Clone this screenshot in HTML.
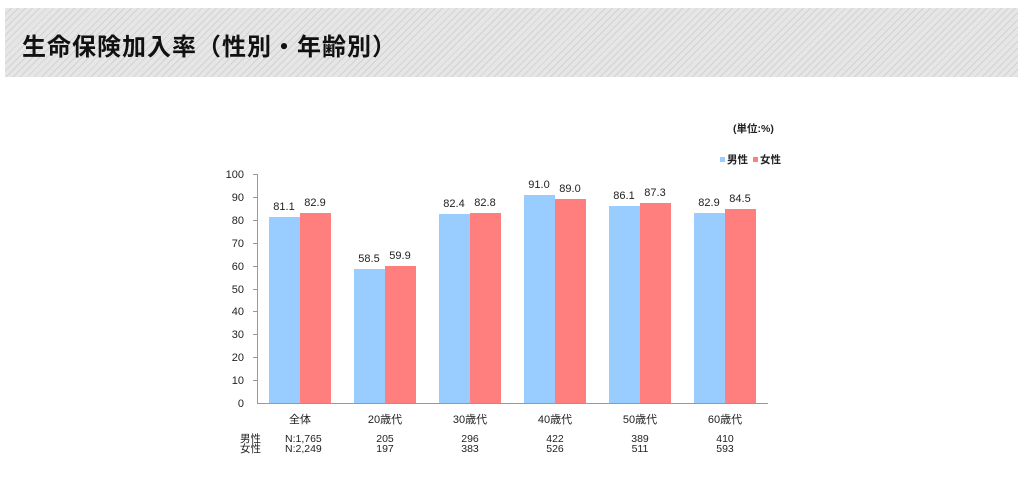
<!DOCTYPE html>
<html><head><meta charset="utf-8"><style>
body{margin:0;background:#fff;width:1024px;height:485px;overflow:hidden;font-family:"Liberation Sans","Noto Sans CJK JP",sans-serif}
.hdr{position:absolute;left:5px;top:8px;width:1013px;height:69px;background:repeating-linear-gradient(135deg,#e6e6e6 0 4px,#d2d2d2 4px 5px)}
.hdr span{position:absolute;left:17px;top:19px;font-size:24px;font-weight:bold;color:#111;letter-spacing:1px}
svg{position:absolute;left:0;top:0}
</style></head><body>
<div class="hdr"><span>生命保険加入率（性別・年齢別）</span></div>
<svg width="1024" height="485" font-family="Liberation Sans, Noto Sans CJK JP, sans-serif" font-size="11" fill="#222">
<g stroke="#999" stroke-width="1">
<line x1="257.5" y1="174" x2="257.5" y2="403"/>
<line x1="257" y1="403.5" x2="768" y2="403.5"/>
<line x1="253" y1="174.5" x2="257" y2="174.5"/><line x1="253" y1="197.5" x2="257" y2="197.5"/><line x1="253" y1="220.5" x2="257" y2="220.5"/><line x1="253" y1="243.5" x2="257" y2="243.5"/><line x1="253" y1="266.5" x2="257" y2="266.5"/><line x1="253" y1="289.5" x2="257" y2="289.5"/><line x1="253" y1="311.5" x2="257" y2="311.5"/><line x1="253" y1="334.5" x2="257" y2="334.5"/><line x1="253" y1="357.5" x2="257" y2="357.5"/><line x1="253" y1="380.5" x2="257" y2="380.5"/>
</g>
<g text-anchor="end">
<text x="244" y="178">100</text><text x="244" y="201">90</text><text x="244" y="224">80</text><text x="244" y="247">70</text><text x="244" y="270">60</text><text x="244" y="293">50</text><text x="244" y="315">40</text><text x="244" y="338">30</text><text x="244" y="361">20</text><text x="244" y="384">10</text><text x="244" y="407">0</text>
</g>
<g>
<rect x="269" y="217" width="31" height="186" fill="#99ccff"/><rect x="300" y="213" width="31" height="190" fill="#ff7f7f"/>
<rect x="354" y="269" width="31" height="134" fill="#99ccff"/><rect x="385" y="266" width="31" height="137" fill="#ff7f7f"/>
<rect x="439" y="214" width="31" height="189" fill="#99ccff"/><rect x="470" y="213" width="31" height="190" fill="#ff7f7f"/>
<rect x="524" y="195" width="31" height="208" fill="#99ccff"/><rect x="555" y="199" width="31" height="204" fill="#ff7f7f"/>
<rect x="609" y="206" width="31" height="197" fill="#99ccff"/><rect x="640" y="203" width="31" height="200" fill="#ff7f7f"/>
<rect x="694" y="213" width="31" height="190" fill="#99ccff"/><rect x="725" y="209" width="31" height="194" fill="#ff7f7f"/>
</g>
<g text-anchor="middle">
<text x="284" y="210">81.1</text><text x="315" y="206">82.9</text>
<text x="369" y="262">58.5</text><text x="400" y="259">59.9</text>
<text x="454" y="207">82.4</text><text x="485" y="206">82.8</text>
<text x="539" y="188">91.0</text><text x="570" y="192">89.0</text>
<text x="624" y="199">86.1</text><text x="655" y="196">87.3</text>
<text x="709" y="206">82.9</text><text x="740" y="202">84.5</text>
<text x="300" y="423">全体</text><text x="385" y="423">20歳代</text><text x="470" y="423">30歳代</text><text x="555" y="423">40歳代</text><text x="640" y="423">50歳代</text><text x="725" y="423">60歳代</text>
<g font-size="10.5">
<text x="385" y="442">205</text><text x="385" y="452">197</text>
<text x="470" y="442">296</text><text x="470" y="452">383</text>
<text x="555" y="442">422</text><text x="555" y="452">526</text>
<text x="640" y="442">389</text><text x="640" y="452">511</text>
<text x="725" y="442">410</text><text x="725" y="452">593</text>
</g>
</g>
<g font-size="10.5">
<text x="240" y="442">男性</text><text x="240" y="452">女性</text>
<text x="285" y="442">N:1,765</text><text x="285" y="452">N:2,249</text>
</g>
<text x="733" y="132" font-size="10.5" font-weight="bold">(単位:%)</text>
<rect x="720" y="157" width="5" height="5" fill="#99ccff"/><text x="727" y="163" font-size="10.5" font-weight="bold">男性</text>
<rect x="753" y="157" width="5" height="5" fill="#ff7f7f"/><text x="760" y="163" font-size="10.5" font-weight="bold">女性</text>
</svg>
</body></html>
